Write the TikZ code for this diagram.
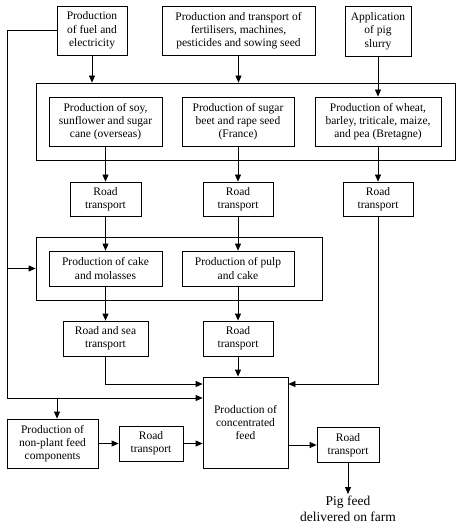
\documentclass[tikz,border=0pt]{standalone}
\usepackage{fontspec}
\setmainfont{Liberation Serif}
\usetikzlibrary{arrows.meta}
\begin{document}
\begin{tikzpicture}[x=1pt,y=-1pt,
  box/.style={draw,line width=0.8pt,align=center,inner sep=0pt,font=\fontsize{11.5}{13.3}\selectfont},
  frame/.style={draw,line width=0.8pt,inner sep=0pt},
  conn/.style={line width=0.8pt,-{Triangle[length=7pt,width=6pt]}}]
\useasboundingbox (0,0) rectangle (465,529);
% top row
\node[box,minimum width=70pt,minimum height=49pt] (fuel) at (92,30.5) {Production\\of fuel and\\electricity};
\node[box,minimum width=153pt,minimum height=49pt] (fert) at (238.5,30.5) {Production and transport of\\fertilisers, machines,\\pesticides and sowing seed};
\node[box,minimum width=66pt,minimum height=50pt] (slurry) at (378,31) {Application\\of pig\\slurry};
% frame 1
\node[frame,minimum width=419pt,minimum height=77pt] (f1) at (245.5,121.5) {};
\node[box,minimum width=113pt,minimum height=49pt] (soy) at (105.5,121.5) {Production of soy,\\sunflower and sugar\\cane (overseas)};
\node[box,minimum width=112pt,minimum height=49pt] (beet) at (238,121.5) {Production of sugar\\beet and rape seed\\(France)};
\node[box,minimum width=126pt,minimum height=49pt] (wheat) at (378,121.5) {Production of wheat,\\barley, triticale, maize,\\and pea (Bretagne)};
% road row 1
\node[box,minimum width=71pt,minimum height=34pt] (road1) at (105.5,199) {Road\\transport};
\node[box,minimum width=70pt,minimum height=34pt] (road2) at (238,199) {Road\\transport};
\node[box,minimum width=70pt,minimum height=34pt] (road3) at (378,199) {Road\\transport};
% frame 2
\node[frame,minimum width=286pt,minimum height=63pt] (f2) at (179,268.5) {};
\node[box,minimum width=113pt,minimum height=35pt] (cake) at (105.5,268.5) {Production of cake\\and molasses};
\node[box,minimum width=112pt,minimum height=35pt] (pulp) at (238,268.5) {Production of pulp\\and cake};
% road row 2
\node[box,minimum width=85pt,minimum height=35pt] (roadsea) at (105.5,338.5) {Road and sea\\transport};
\node[box,minimum width=70pt,minimum height=35pt] (road6) at (238,338.5) {Road\\transport};
% bottom
\node[box,minimum width=85pt,minimum height=91pt] (conc) at (245.5,422.5) {Production of\\concentrated\\feed};
\node[box,minimum width=91pt,minimum height=49pt] (nonplant) at (52.5,443.5) {Production of\\non-plant feed\\components};
\node[box,minimum width=64pt,minimum height=35pt] (road4) at (151,443.5) {Road\\transport};
\node[box,minimum width=62pt,minimum height=35pt] (road5) at (348,445) {Road\\transport};
\node[align=center,inner sep=2pt,anchor=north,font=\fontsize{13.5}{16}\selectfont] (final) at (348,494) {Pig feed\\delivered on farm};
% helper coordinates
\coordinate (lx) at (7,0);
\coordinate (j1) at (0,384);
\coordinate (j2) at (0,398);
\coordinate (b) at (57,398);
% connectors
\draw[conn] (fuel) -- (fuel |- f1.north);
\draw[conn] (fert) -- (fert |- f1.north);
\draw[conn] (slurry) -- (wheat);
\draw[conn] (soy) -- (road1);
\draw[conn] (beet) -- (road2);
\draw[conn] (wheat) -- (road3);
\draw[conn] (road1) -- (cake);
\draw[conn] (road2) -- (pulp);
\draw[conn] (cake) -- (roadsea);
\draw[conn] (pulp) -- (road6);
\draw[conn] (road6) -- (road6 |- conc.north);
\draw[conn] (roadsea.south) |- (conc.west |- j1);
\draw[conn] (road3.south) |- (conc.east |- j1);
\draw[conn] (fuel.west) -| (lx |- j2) -- (conc.west |- j2);
\draw[conn] (lx |- f2.west) -- (f2.west);
\draw[conn] (b) -- (b |- nonplant.north);
\draw[conn] (nonplant) -- (road4);
\draw[conn] (road4) -- (road4 -| conc.west);
\draw[conn] (conc.east |- road5) -- (road5);
\draw[conn] (road5) -- (final);
\end{tikzpicture}
\end{document}
